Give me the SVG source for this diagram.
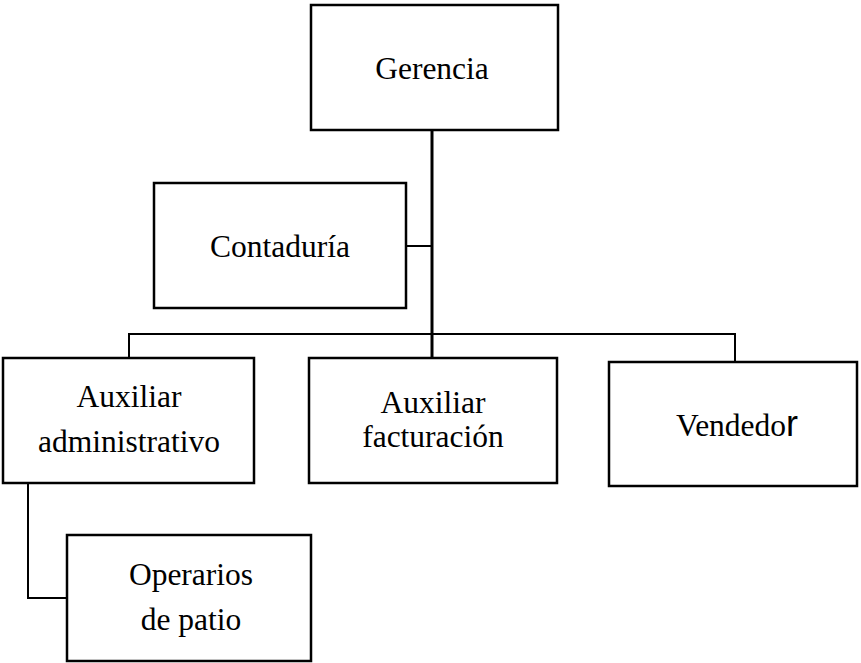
<svg xmlns="http://www.w3.org/2000/svg" width="861" height="663" viewBox="0 0 861 663">
<style>
.box{fill:#fff;stroke:#000;stroke-width:2.5}
.t{font-family:'Liberation Serif','DejaVu Serif','Times New Roman',Times,serif;font-size:31.5px;fill:#000;text-anchor:middle}
.c{fill:none;stroke:#000;stroke-width:2}
</style>
<rect width="861" height="663" fill="#fff"/>
<g id="connectors">
<line class="c" x1="432" y1="130" x2="432" y2="360" style="stroke-width:3"/>
<line class="c" x1="406" y1="246" x2="432" y2="246"/>
<polyline class="c" points="129,358 129,334 735,334 735,362"/>
<polyline class="c" points="28,483 28,598 67,598"/>
</g>
<g id="gerencia"><rect class="box" x="311" y="5" width="247" height="125"/><text class="t" x="432" y="79" font-family="Liberation Serif, serif">Gerencia</text></g>
<g id="contaduria"><rect class="box" x="154" y="183" width="252" height="125"/><text class="t" x="280" y="257">Contaduría</text></g>
<g id="aux-admin"><rect class="box" x="3" y="358" width="251" height="125"/><text class="t" x="129" y="407">Auxiliar</text><text class="t" x="129" y="452">administrativo</text></g>
<g id="aux-fact"><rect class="box" x="309" y="358" width="248" height="125"/><text class="t" x="433" y="413">Auxiliar</text><text class="t" x="433" y="447">facturación</text></g>
<g id="vendedor"><rect class="box" x="609" y="362" width="248" height="124"/><text class="t" x="737" y="436">Vendedo<tspan style="font-family:'Liberation Sans',Arial,sans-serif;font-size:36px">r</tspan></text></g>
<g id="operarios"><rect class="box" x="67" y="535" width="244" height="126"/><text class="t" x="191" y="585">Operarios</text><text class="t" x="191" y="630">de patio</text></g>
</svg>
